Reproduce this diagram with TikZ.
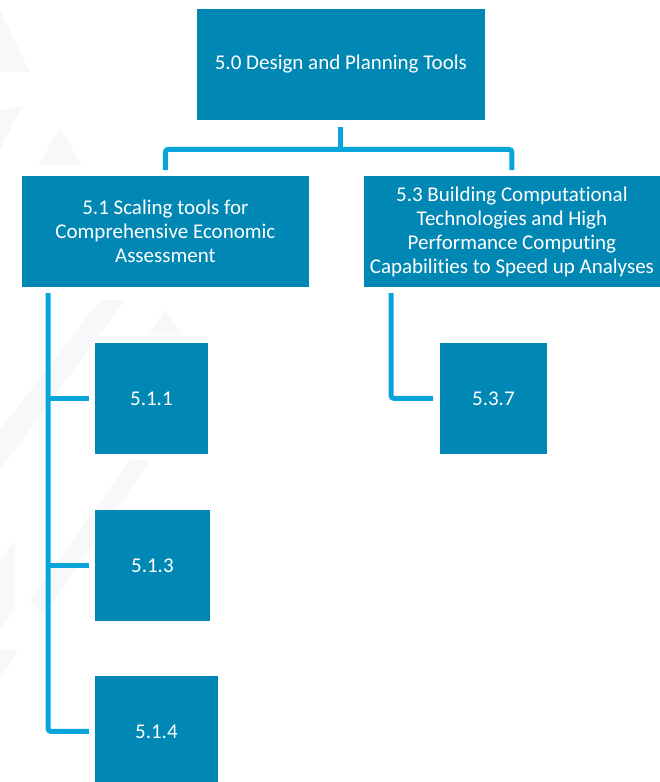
\documentclass[tikz,border=0pt]{standalone}
\usepackage{fontspec}
\setmainfont[Ligatures=NoCommon]{Carlito}
\begin{document}
\definecolor{boxblue}{RGB}{0,135,179}
\definecolor{linkblue}{RGB}{8,165,218}
\definecolor{faint}{RGB}{248,248,250}
\begin{tikzpicture}[x=1pt,y=-1pt,
  wbs/.style={fill=boxblue, draw=white, line width=0.8pt, text=white,
    font=\fontsize{21}{24}\selectfont, align=center, inner sep=0pt,
    anchor=north west},
  conn/.style={draw=linkblue, line width=5pt, rounded corners=3pt}]
\useasboundingbox (0,0) rectangle (660,782);
\clip (0,0) rectangle (660,782);
% faint backdrop chevrons
\begin{scope}[fill=faint]
  \fill (0,10) -- (30,72) -- (0,72) -- cycle;
  \fill (0,110) -- (22,106) -- (0,150) -- cycle;
  \fill (60,128) -- (82,165) -- (38,165) -- cycle;
  \fill (0,430) -- (100,300) -- (125,300) -- (0,470) -- cycle;
  \fill (165,310) -- (182,335) -- (148,335) -- cycle;
  \fill (30,600) -- (130,460) -- (150,460) -- (45,615) -- cycle;
  \fill (0,560) -- (15,540) -- (15,610) -- (0,630) -- cycle;
  \fill (0,650) -- (18,650) -- (0,680) -- cycle;
\end{scope}
% boxes
\node[wbs, minimum width=289pt, minimum height=112pt] (top) at (196,8)
  {5.0 Design and Planning Tools};
\node[wbs, minimum width=288pt, minimum height=112pt] (s51) at (21,175)
  {5.1 Scaling tools for\\Comprehensive Economic\\Assessment};
\node[wbs, minimum width=297pt, minimum height=112pt] (s53) at (363,175)
  {5.3 Building Computational\\Technologies and High\\Performance Computing\\Capabilities to Speed up Analyses};
\node[wbs, minimum width=114pt, minimum height=112pt] (b511) at (94,342) {5.1.1};
\node[wbs, minimum width=116pt, minimum height=112pt] (b513) at (94,509) {5.1.3};
\node[wbs, minimum width=124pt, minimum height=112pt] (b514) at (94,675) {5.1.4};
\node[wbs, minimum width=108pt, minimum height=112pt] (b537) at (439,342) {5.3.7};
% connectors
\coordinate (sp1) at (48,293);
\coordinate (sp3) at (391,293);
\draw[conn] ([yshift=-6pt]top.south) -- ([yshift=-28.5pt]top.south);
\draw[conn] ([yshift=5pt]s51.north) |- ([yshift=-28.5pt]top.south)
  -| ([yshift=5pt]s53.north);
\draw[conn] (sp1) |- ([xshift=-5pt]b514.west);
\draw[conn] (sp1 |- b511.west) -- ([xshift=-5pt]b511.west);
\draw[conn] (sp1 |- b513.west) -- ([xshift=-5pt]b513.west);
\draw[conn] (sp3) |- ([xshift=-6pt]b537.west);
\end{tikzpicture}
\end{document}
